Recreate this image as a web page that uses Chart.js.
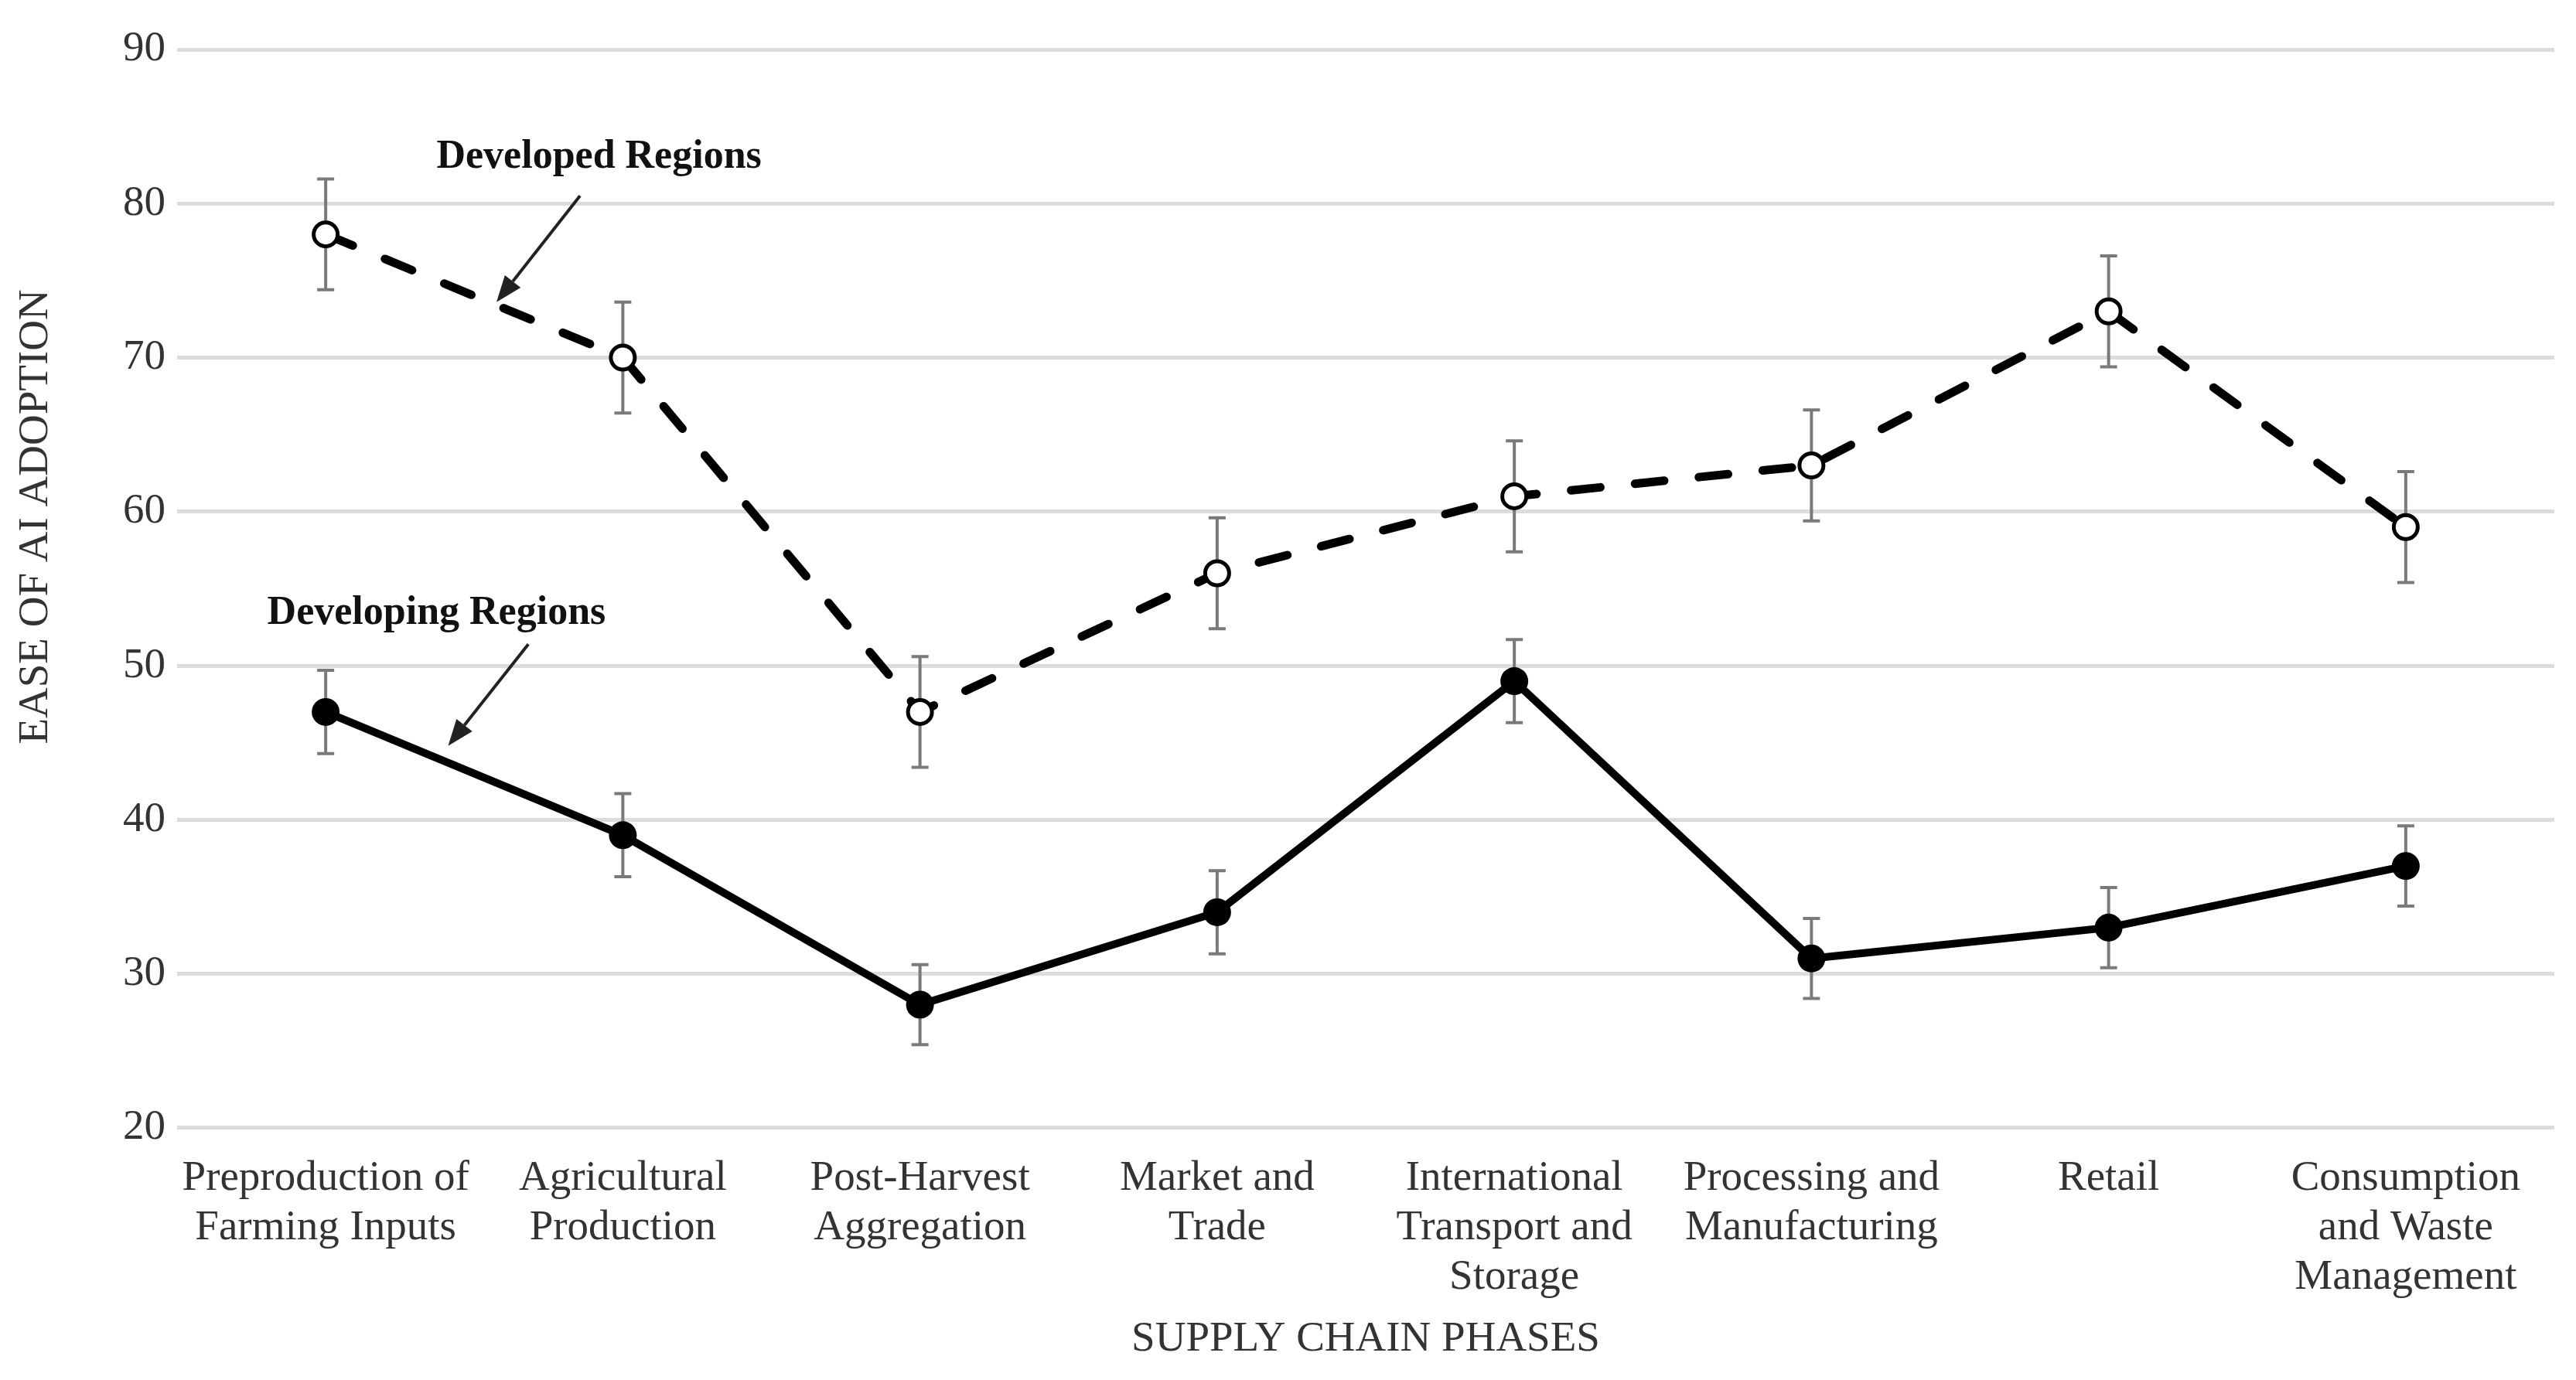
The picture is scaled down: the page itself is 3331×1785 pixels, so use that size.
<!DOCTYPE html>
<html><head><meta charset="utf-8">
<script src="https://cdn.jsdelivr.net/npm/chart.js@4.4.1/dist/chart.umd.min.js"></script>
<style>html,body{margin:0;padding:0;background:#fff;}canvas{display:block}</style>
</head><body>
<canvas id="c" width="3331" height="1785"></canvas>
<script>
// ---- data ----
const categories = [
  ["Preproduction of", "Farming Inputs"],
  ["Agricultural", "Production"],
  ["Post-Harvest", "Aggregation"],
  ["Market and", "Trade"],
  ["International", "Transport and", "Storage"],
  ["Processing and", "Manufacturing"],
  ["Retail"],
  ["Consumption", "and Waste", "Management"]
];
const developedValues = [78, 70, 47, 56, 61, 63, 73, 59];
const developedErrors = [3.6, 3.6, 3.6, 3.6, 3.6, 3.6, 3.6, 3.6];
const developingValues = [47, 39, 28, 34, 49, 31, 33, 37];
const developingErrors = [2.7, 2.7, 2.6, 2.7, 2.7, 2.6, 2.6, 2.6];
const yMin = 20, yMax = 90, yStep = 10;
const xTitle = "SUPPLY CHAIN PHASES";
const yTitle = "EASE OF AI ADOPTION";
// annotation labels: text position and arrow (category index, value)
const annotationTexts = ["Developed Regions", "Developing Regions"];
const annotationTextAt = [[0.92, 83.0], [0.373, 53.4]];
const annotationArrowFrom = [[0.856, 80.5], [0.682, 51.4]];
const annotationArrowTo = [[0.575, 73.6], [0.412, 44.8]];

const FONT = "'Liberation Serif', 'Times New Roman', serif";

const errorBarPlugin = {
  id: 'errorBars',
  beforeDatasetsDraw(chart) {
    const ctx = chart.ctx, xs = chart.scales.x, ys = chart.scales.y;
    ctx.save();
    ctx.strokeStyle = '#7a7a7a';
    ctx.lineWidth = 4;
    chart.data.datasets.forEach(ds => {
      ds.values.forEach((v, i) => {
        const e = ds.errors[i];
        const x = xs.getPixelForValue(i);
        const y1 = ys.getPixelForValue(v + e), y2 = ys.getPixelForValue(v - e);
        ctx.beginPath();
        ctx.moveTo(x, y1); ctx.lineTo(x, y2);
        ctx.moveTo(x - 11, y1); ctx.lineTo(x + 11, y1);
        ctx.moveTo(x - 11, y2); ctx.lineTo(x + 11, y2);
        ctx.stroke();
      });
    });
    ctx.restore();
  }
};

const annotationPlugin = {
  id: 'annots',
  afterDatasetsDraw(chart) {
    const ctx = chart.ctx, xs = chart.scales.x, ys = chart.scales.y;
    const px = p => [xs.getPixelForValue(0) + p[0] * (xs.getPixelForValue(1) - xs.getPixelForValue(0)), ys.getPixelForValue(p[1])];
    ctx.save();
    annotationTexts.forEach((t, k) => {
      const [tx, ty] = px(annotationTextAt[k]);
      ctx.font = "bold 52px " + FONT;
      ctx.fillStyle = '#111';
      ctx.textAlign = 'center';
      ctx.textBaseline = 'middle';
      ctx.fillText(t, tx, ty);
      const [ax, ay] = px(annotationArrowFrom[k]);
      const [bx, by] = px(annotationArrowTo[k]);
      const ang = Math.atan2(by - ay, bx - ax);
      const hl = 34, hw = 13;
      const baseX = bx - hl * Math.cos(ang), baseY = by - hl * Math.sin(ang);
      ctx.strokeStyle = '#222';
      ctx.lineWidth = 4;
      ctx.beginPath(); ctx.moveTo(ax, ay); ctx.lineTo(baseX, baseY); ctx.stroke();
      ctx.fillStyle = '#222';
      ctx.beginPath();
      ctx.moveTo(bx, by);
      ctx.lineTo(baseX + hw * Math.sin(ang), baseY - hw * Math.cos(ang));
      ctx.lineTo(baseX - hw * Math.sin(ang), baseY + hw * Math.cos(ang));
      ctx.closePath(); ctx.fill();
    });
    // y axis title
    const ca = chart.chartArea;
    ctx.translate(47, (ca.top + ca.bottom) / 2 - 93);
    ctx.rotate(-Math.PI / 2);
    ctx.font = "55px " + FONT;
    ctx.fillStyle = '#333';
    ctx.textAlign = 'center';
    ctx.textBaseline = 'middle';
    ctx.fillText(yTitle, 0, 0);
    ctx.restore();
  }
};

new Chart(document.getElementById('c'), {
  type: 'line',
  data: {
    labels: categories,
    datasets: [
      {
        label: 'Developed Regions',
        data: developedValues, values: developedValues, errors: developedErrors,
        borderColor: '#000', borderWidth: 11,
        borderDash: [38, 45], borderCapStyle: 'round',
        pointRadius: 15.5, pointBorderWidth: 5,
        pointBackgroundColor: '#fff', pointBorderColor: '#000',
        tension: 0, fill: false
      },
      {
        label: 'Developing Regions',
        data: developingValues, values: developingValues, errors: developingErrors,
        borderColor: '#000', borderWidth: 10,
        pointRadius: 18, pointBorderWidth: 0,
        pointBackgroundColor: '#000', pointBorderColor: '#000',
        tension: 0, fill: false
      }
    ]
  },
  options: {
    responsive: false, animation: false, devicePixelRatio: 1,
    layout: { padding: { left: 144, right: 28, top: 64, bottom: 20 } },
    plugins: { legend: { display: false }, tooltip: { enabled: false } },
    scales: {
      x: {
        offset: true,
        grid: { display: false, drawTicks: false },
        border: { display: false },
        ticks: {
          autoSkip: false, maxRotation: 0, minRotation: 0, padding: 34,
          color: '#333', font: { family: FONT, size: 55, lineHeight: 1.164 }
        },
        title: {
          display: true, text: xTitle, color: '#333',
          font: { family: FONT, size: 55, lineHeight: 1.164 },
          padding: { top: -18, bottom: 0 }
        }
      },
      y: {
        min: yMin, max: yMax,
        grid: { color: '#dcdcdc', lineWidth: 5, drawTicks: false },
        border: { display: false },
        ticks: {
          stepSize: yStep, padding: 15, color: '#333',
          font: { family: FONT, size: 55 }
        }
      }
    }
  },
  plugins: [errorBarPlugin, annotationPlugin]
});
</script>
</body></html>
